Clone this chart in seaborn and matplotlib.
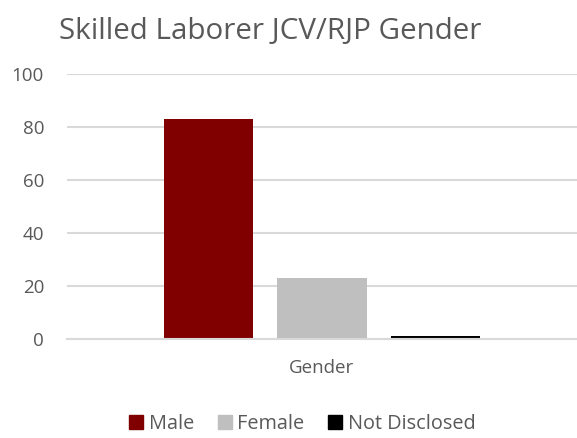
import pandas as pd
import matplotlib.pyplot as plt
import seaborn as sns

categories = ['Male', 'Female', 'Not Disclosed']
counts = [83, 23, 1]
colors = ['#800000', '#bfbfbf', '#000000']

df = pd.DataFrame({'group': ['Gender'] * 3, 'gender': categories, 'count': counts})

sns.set_style('white')
plt.rcParams['font.family'] = ['Open Sans', 'DejaVu Sans']
txt = '#595959'

fig = plt.figure(figsize=(5.77, 4.38), dpi=100)
ax = fig.add_axes([0.116, 0.227, 0.884, 0.604])

sns.barplot(data=df, x='group', y='count', hue='gender', hue_order=categories,
            palette=colors, width=1.0, gap=0.21, saturation=1, linewidth=0,
            ax=ax, legend=False)

ax.set_xlim(-0.75, 0.75)
ax.set_ylim(0, 100)
ax.set_yticks(range(0, 101, 20))
ax.yaxis.grid(True, color='#d9d9d9', linewidth=1.5)
ax.set_axisbelow(True)
for s in ['top', 'right', 'left']:
    ax.spines[s].set_visible(False)
ax.spines['bottom'].set_color('#d9d9d9')
ax.spines['bottom'].set_linewidth(1.5)
ax.tick_params(axis='both', length=0, labelsize=13.5, colors=txt)
ax.tick_params(axis='y', pad=16.5)
ax.tick_params(axis='x', pad=15)
ax.set_xlabel('')
ax.set_ylabel('')

fig.suptitle('Skilled Laborer JCV/RJP Gender', x=0.469, y=0.962, fontsize=21.3, color=txt)

handles = [plt.Rectangle((0, 0), 1, 1, color=c) for c in colors]
fig.legend(handles, categories, loc='center', bbox_to_anchor=(0.524, 0.032), ncol=3,
           frameon=False, fontsize=14.3, labelcolor=txt, handlelength=0.7, handleheight=0.7,
           handletextpad=0.3, columnspacing=1.2)

fig.savefig('out.png', dpi=100)
